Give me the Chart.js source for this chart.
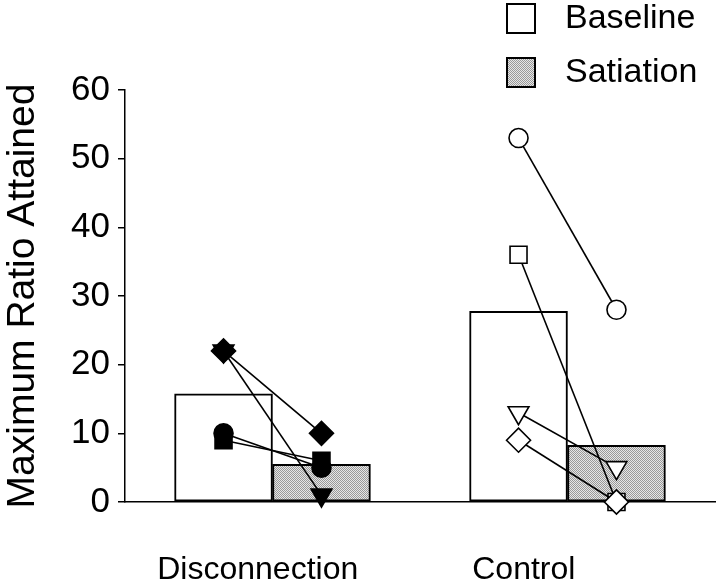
<!DOCTYPE html>
<html>
<head>
<meta charset="utf-8">
<script src="https://cdn.jsdelivr.net/npm/chart.js@4.4.0/dist/chart.umd.min.js"></script>
<style>
  body { margin: 0; background: #fff; }
  canvas { display: block; }
</style>
</head>
<body>
<canvas id="chart" width="720" height="588"></canvas>
<script>
const groups = ['Disconnection', 'Control'];
const baselineMeans = [15.75, 27.75];
const satiationMeans = [5.5, 8.25];
const yTicks = [0, 10, 20, 30, 40, 50, 60];

// individual subjects: [baseline, satiation]
const discDiamond = [22, 10];
const discTriangle = [22, 1];
const discCircle = [10, 5];
const discSquare = [9, 6];
const ctrlCircle = [53, 28];
const ctrlDiamond = [9, 0];
const ctrlSquare = [36, 0];
const ctrlTriangle = [13, 5];

// group i sits at x = i; each bar takes this share of a group slot
const barFrac = 0.332;
const off = barFrac / 2;
// where the group names sit (the original has them a bit left of the bars)
const labelShift = [-0.05, -0.148];
const font = '"Liberation Sans", Arial, sans-serif';

function stipple() {
  const c = document.createElement('canvas');
  c.width = 2; c.height = 2;
  const g = c.getContext('2d');
  g.fillStyle = '#e6e6e6';
  g.fillRect(0, 0, 2, 2);
  g.fillStyle = '#999';
  g.fillRect(0, 0, 1, 1);
  g.fillRect(1, 1, 1, 1);
  return g.createPattern(c, 'repeat');
}
const grey = stipple();

function barData(vals, side) {
  return vals.map((v, i) => ({ x: i + side * off, y: v }));
}

function subject(vals, group, style, filled, rot) {
  return {
    type: 'line',
    order: 0,
    clip: false,
    data: [{ x: group - off, y: vals[0] }, { x: group + off, y: vals[1] }],
    borderColor: '#000',
    borderWidth: 1.6,
    pointStyle: style,
    pointRotation: rot || 0,
    pointRadius: style === 'circle' ? 9.5 : 12,
    pointBackgroundColor: filled ? '#000' : '#fff',
    pointBorderColor: '#000',
    pointBorderWidth: 1.6,
    fill: false
  };
}

const legendBoxes = {
  id: 'legendBoxes',
  afterDraw(chart) {
    const ctx = chart.ctx;
    const items = chart.data.datasets.filter(d => d.type === 'bar');
    ctx.save();
    items.forEach((d, i) => {
      const y = 4 + i * 54;
      ctx.fillStyle = d.backgroundColor;
      ctx.fillRect(507, y, 28, 29);
      ctx.lineWidth = 2;
      ctx.strokeStyle = '#000';
      ctx.strokeRect(507, y, 28, 29);
      ctx.fillStyle = '#000';
      ctx.font = '34px ' + font;
      ctx.textBaseline = 'middle';
      ctx.fillText(d.label, 565, y + 15);
    });
    ctx.restore();
  }
};

const barOpts = {
  type: 'bar', order: 1, grouped: false,
  categoryPercentage: 1, barPercentage: 1,
  borderColor: '#000', borderWidth: 2, borderSkipped: false
};

new Chart(document.getElementById('chart'), {
  data: {
    datasets: [
      { ...barOpts, label: 'Baseline', data: barData(baselineMeans, -1), backgroundColor: '#fff' },
      { ...barOpts, label: 'Satiation', data: barData(satiationMeans, 1), backgroundColor: grey },
      subject(discDiamond, 0, 'rectRot', true),
      subject(discTriangle, 0, 'triangle', true, 180),
      subject(discCircle, 0, 'circle', true),
      subject(discSquare, 0, 'rect', true),
      subject(ctrlCircle, 1, 'circle', false),
      subject(ctrlDiamond, 1, 'rectRot', false),
      subject(ctrlSquare, 1, 'rect', false),
      subject(ctrlTriangle, 1, 'triangle', false, 180)
    ]
  },
  options: {
    responsive: false,
    devicePixelRatio: 1,
    animation: false,
    layout: { autoPadding: false, padding: { top: 90, right: 5, left: 0, bottom: 0 } },
    plugins: { legend: { display: false }, tooltip: { enabled: false } },
    scales: {
      x: {
        type: 'linear',
        offset: false,
        min: -0.5,
        max: 1.5,
        afterBuildTicks: s => { s.ticks = groups.map((g, i) => ({ value: i + labelShift[i] })); },
        grid: { display: false },
        border: { display: true, color: '#000', width: 1.5 },
        ticks: {
          color: '#000', padding: 41, maxRotation: 0, autoSkip: false,
          font: { family: font, size: 32 },
          callback: (v, i) => groups[i]
        },
        afterFit: s => { s.height = 86; }
      },
      y: {
        min: 0,
        max: 60,
        afterBuildTicks: s => { s.ticks = yTicks.map(v => ({ value: v })); },
        afterFit: s => { s.width = 125; },
        grid: { drawOnChartArea: false, drawTicks: true, tickLength: 7, color: '#000', lineWidth: 1.5 },
        border: { display: true, color: '#000', width: 1.5 },
        ticks: { color: '#000', padding: 8, font: { family: font, size: 35 } },
        title: { display: true, text: 'Maximum Ratio Attained', color: '#000', padding: { top: 0, bottom: 4 }, font: { family: font, size: 39 } }
      }
    }
  },
  plugins: [legendBoxes]
});
</script>
</body>
</html>
